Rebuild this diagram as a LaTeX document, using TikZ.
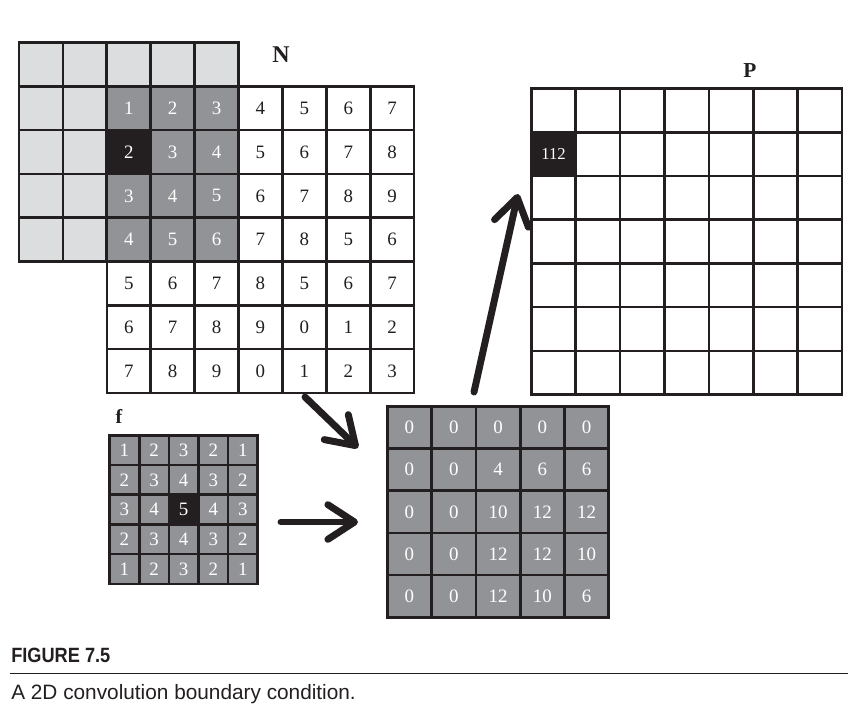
\documentclass[tikz,border=0pt]{standalone}
\usepackage{fontspec}
\setmainfont{Liberation Serif}
\newfontfamily\capfont{Liberation Sans}
\newfontfamily\capboldfont[FakeStretch=0.88]{Liberation Sans}
\usetikzlibrary{arrows.meta}
\definecolor{ink}{HTML}{231F20}
\definecolor{dgray}{HTML}{929396}
\definecolor{lgray}{HTML}{DCDDDF}
\begin{document}
\begin{tikzpicture}[x=0.75pt,y=-0.75pt,
  cell/.style={draw=ink,line width=2pt,inner sep=0pt,anchor=north west,
    font=\fontsize{14.2}{15}\selectfont},
  ncell/.style={cell,minimum width=32.9pt,minimum height=32.85pt},
  fcell/.style={cell,minimum width=22.2pt,minimum height=22.3pt},
  rcell/.style={cell,minimum width=33.2pt,minimum height=31.65pt},
  pcell/.style={cell,minimum width=33.3pt,minimum height=32.8pt},
  lbl/.style={inner sep=0pt,anchor=base,text=ink},
  bigarrow/.style={draw=ink,line width=5.2pt,line cap=round,
    -{Straight Barb[round,length=20pt,width=26pt]}}]
\useasboundingbox (0,0) rectangle (866,722);

% ---- padding (ghost) cells of N ----
\foreach \c in {-2,...,2}
  \node[ncell,fill=lgray] (Npad-a\c) at ({105.5+43.9*\c},{85-43.8}) {};
\foreach \r in {0,...,3}
  \foreach \c in {-2,-1}
    \node[ncell,fill=lgray] (Npad-\r\c) at ({105.5+43.9*\c},{85+43.8*\r}) {};

% ---- N ----
\foreach \row [count=\r from 0] in
  {{1,2,3,4,5,6,7},{2,3,4,5,6,7,8},{3,4,5,6,7,8,9},{4,5,6,7,8,5,6},
   {5,6,7,8,5,6,7},{6,7,8,9,0,1,2},{7,8,9,0,1,2,3}}{
  \foreach \v [count=\c from 0] in \row {
    \def\cf{white}\def\ct{ink}
    \ifnum\r<4 \ifnum\c<3 \def\cf{dgray}\def\ct{white}\fi\fi
    \ifnum\r=1 \ifnum\c=0 \def\cf{ink}\def\ct{white}\fi\fi
    \node[ncell,fill=\cf,text=\ct] (N-\r-\c) at ({105.5+43.9*\c},{85+43.8*\r}) {\v};
  }
}
\node[lbl,font=\bfseries\fontsize{18}{20}\selectfont] (Nlabel) at (281,62) {N};

% ---- f ----
\foreach \row [count=\r from 0] in
  {{1,2,3,2,1},{2,3,4,3,2},{3,4,5,4,3},{2,3,4,3,2},{1,2,3,2,1}}{
  \foreach \v [count=\c from 0] in \row {
    \def\cf{dgray}
    \ifnum\r=2 \ifnum\c=2 \def\cf{ink}\fi\fi
    \node[fcell,fill=\cf,text=white] (f-\r-\c) at ({108.3+29.6*\c},{434+29.7*\r}) {\v};
  }
}
\node[lbl,font=\bfseries\fontsize{15}{18}\selectfont] (flabel) at (119,423) {f};

% ---- result of the tile ----
\foreach \row [count=\r from 0] in
  {{0,0,0,0,0},{0,0,4,6,6},{0,0,10,12,12},{0,0,12,12,10},{0,0,12,10,6}}{
  \foreach \v [count=\c from 0] in \row {
    \node[rcell,fill=dgray,text=white] (R-\r-\c) at ({386+44.3*\c},{405+42.2*\r}) {\v};
  }
}

% ---- P ----
\foreach \r in {0,...,6}
  \foreach \c in {0,...,6}
    \node[pcell,fill=white] (P-\r-\c) at ({530+44.4*\c},{87.3+43.7*\r}) {};
\node[pcell,fill=ink,text=white,font=\fontsize{12.5}{13}\selectfont] (P112) at (530,{87.3+43.7}) {112};
\node[lbl,font=\bfseries\fontsize{16}{18}\selectfont] (Plabel) at (750,77) {P};

% ---- arrows ----
\coordinate (a1s) at (305,397);
\coordinate (a1e) at (358,448);
\coordinate (a2s) at (281,522);
\coordinate (a2e) at (358,522);
\coordinate (a3s) at (474,392);
\coordinate (a3e) at (518,194);
\draw[bigarrow] (a1s) -- (a1e);
\draw[bigarrow] (a2s) -- (a2e);
\draw[bigarrow] (a3s) -- (a3e);

% ---- caption ----
\node[inner sep=0pt,anchor=base west,text=ink,
  font=\capboldfont\bfseries\fontsize{15.5}{18}\selectfont] (figno) at (11,662.7) {FIGURE 7.5};
\draw[ink,line width=1pt] (10,673.3) -- (848,673.3);
\node[inner sep=0pt,anchor=base west,text=ink,
  font=\capfont\fontsize{15.6}{18}\selectfont] (caption) at (11,699.3) {A 2D convolution boundary condition.};
\end{tikzpicture}
\end{document}
